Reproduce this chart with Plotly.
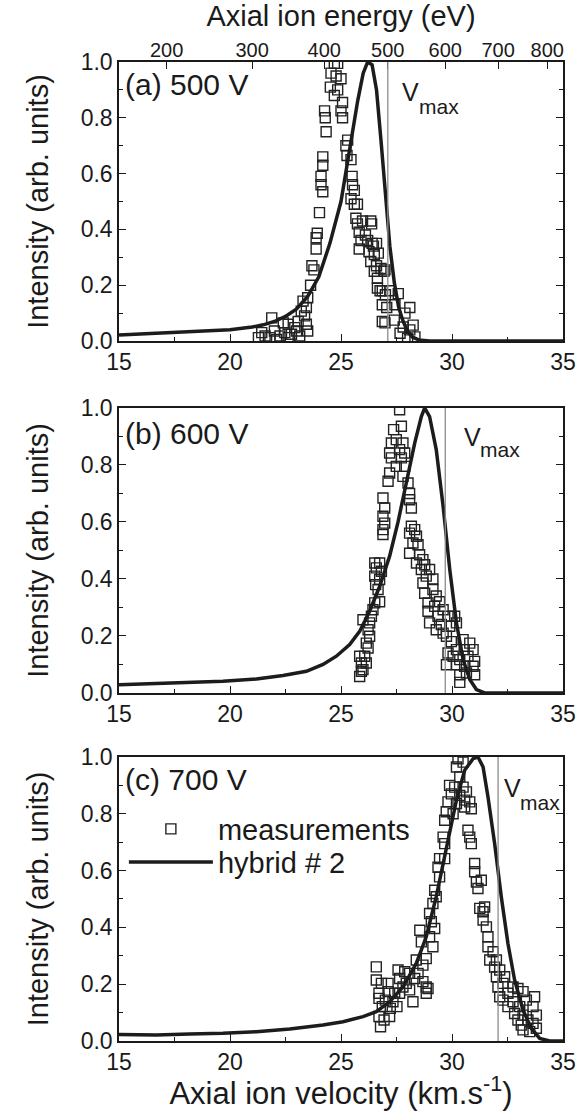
import numpy as np
import plotly.graph_objects as go

# ---------------- data ----------------
voltages = [500, 600, 700]
panel_labels = ["(a) 500 V", "(b) 600 V", "(c) 700 V"]
energy_ticks = [200, 300, 400, 500, 600, 700, 800]

# hybrid #2 model curves (velocity km/s, normalised intensity)
curve_a_v = [15, 16, 17, 18, 19, 20, 21, 21.5, 22, 22.5, 23, 23.5, 24, 24.5, 25, 25.25, 25.5, 25.75,
             26, 26.2, 26.4, 26.6, 26.8, 27.0, 27.2, 27.4, 27.6, 27.8, 28.0, 28.2, 28.5, 29, 30, 35]
curve_a_y = [0.022, 0.025, 0.028, 0.031, 0.035, 0.040, 0.050, 0.058, 0.070, 0.088, 0.115, 0.16, 0.23,
             0.35, 0.50, 0.62, 0.74, 0.86, 0.96, 1.0, 0.99, 0.90, 0.72, 0.52, 0.34, 0.21, 0.12, 0.07,
             0.035, 0.015, 0.004, 0.0, 0.0, 0.0]

curve_b_v = [15, 16.68, 18.18, 19.68, 21.19, 22.39, 23.44, 24.19, 24.79, 25.39, 25.84, 26.29, 26.74,
             27.19, 27.57, 27.94, 28.32, 28.62, 28.77, 28.99, 29.29, 29.6, 29.9, 30.2, 30.5, 30.8,
             31.1, 31.47, 35]
curve_b_y = [0.029, 0.033, 0.035, 0.041, 0.049, 0.061, 0.076, 0.10, 0.129, 0.17, 0.216, 0.287, 0.374,
             0.48, 0.60, 0.737, 0.877, 0.97, 1.0, 0.97, 0.854, 0.655, 0.433, 0.246, 0.117, 0.047,
             0.012, 0.0, 0.0]

curve_c_v = [15, 16.68, 18.18, 19.68, 21.19, 22.69, 24.19, 25.09, 25.99, 26.59, 27.19, 27.79, 28.39,
             28.84, 29.29, 29.74, 30.2, 30.57, 30.95, 31.17, 31.4, 31.62, 31.92, 32.22, 32.52, 32.82,
             33.2, 33.57, 33.95, 34.4, 35]
curve_c_y = [0.023, 0.021, 0.025, 0.027, 0.033, 0.042, 0.056, 0.068, 0.086, 0.103, 0.138, 0.19, 0.273,
             0.367, 0.508, 0.683, 0.848, 0.953, 0.994, 1.0, 0.965, 0.86, 0.695, 0.508, 0.343, 0.215,
             0.109, 0.045, 0.009, 0.0, 0.0]

# measurements (velocity km/s, normalised intensity)
meas_a_v = [24.7, 24.85, 24.55, 24.78, 25.0, 24.52, 24.85, 24.7, 25.07, 25.0, 25.07, 24.26, 24.29, 24.33,
            25.3, 25.22, 24.18, 24.18, 25.27, 25.45, 24.1, 24.1, 24.18, 24.03, 25.5, 25.52, 25.6, 25.45,
            25.6, 25.74, 25.67, 25.97, 26.34, 25.74, 25.82, 26.1, 25.9, 26.2, 26.4, 25.82, 26.26, 26.5,
            26.34, 26.8, 26.5, 26.64, 26.93, 26.64, 26.86, 27.0, 26.86, 26.86, 23.93, 23.88, 23.88, 23.69,
            23.78, 23.63, 23.5, 23.29, 23.44, 23.21, 23.36, 23.07, 23.44, 23.5, 22.92, 22.62, 22.4, 21.88,
            21.43, 21.58, 21.8, 22.0, 22.25, 22.47, 22.62, 22.77, 23.0, 23.14, 22.1, 21.28,
            26.38, 26.6, 26.46, 26.68, 26.6, 26.98, 26.76, 27.2, 27.58, 27.06, 27.43, 28.1, 26.98, 27.4,
            27.88, 27.8, 28.1, 28.25, 28.33, 28.0, 27.66]
meas_a_y = [0.995, 0.995, 0.96, 0.95, 0.94, 0.91, 0.90, 0.88, 0.855, 0.825, 0.80, 0.825, 0.80, 0.75,
            0.72, 0.70, 0.66, 0.63, 0.665, 0.65, 0.59, 0.56, 0.535, 0.46, 0.59, 0.56, 0.54, 0.51,
            0.49, 0.49, 0.44, 0.43, 0.43, 0.42, 0.39, 0.38, 0.36, 0.36, 0.35, 0.33, 0.32, 0.31,
            0.285, 0.26, 0.25, 0.225, 0.25, 0.19, 0.18, 0.166, 0.13, 0.07, 0.386, 0.37, 0.33, 0.27,
            0.255, 0.20, 0.155, 0.143, 0.12, 0.107, 0.09, 0.07, 0.06, 0.036, 0.048, 0.06, 0.065, 0.083,
            0.03, 0.018, 0.012, 0.036, 0.018, 0.03, 0.012, 0.024, 0.036, 0.018, 0.006, 0.012,
            0.42, 0.35, 0.34, 0.315, 0.27, 0.255, 0.18, 0.18, 0.17, 0.12, 0.13, 0.12, 0.065, 0.075,
            0.10, 0.05, 0.04, 0.057, 0.015, 0.01, 0.028]

meas_b_v = [27.64, 27.37, 27.72, 27.27, 27.49, 27.79, 27.19, 27.64, 27.87, 27.27, 27.72, 27.49, 27.87,
            27.19, 27.79, 27.12, 28.02, 26.89, 28.09, 28.09, 26.97, 28.17, 26.89, 26.97, 26.89, 26.89,
            28.17, 28.32, 28.09, 28.4, 28.24, 28.47, 28.09, 28.54, 28.69, 28.4, 28.77, 28.62, 28.99,
            28.84, 29.14, 28.69, 29.14, 28.77, 29.29, 29.44, 28.92, 29.22, 28.92, 29.6, 29.37, 29.82,
            30.12, 28.99, 29.52, 29.29, 29.9, 29.6, 29.75, 30.2, 29.97, 30.5, 30.8, 29.82, 30.2, 30.55,
            30.95, 30.05, 30.35, 30.72, 31.02, 29.75, 30.2, 30.57, 30.95, 30.35, 30.65, 31.02, 30.35,
            26.52, 26.74, 26.59, 26.82, 26.52, 26.74, 26.56, 26.67, 26.52, 26.74, 26.44, 26.37, 25.99,
            26.29, 26.22, 26.29, 26.14, 26.22, 25.84, 26.07, 25.92, 26.14, 25.92, 25.84, 25.99]
meas_b_y = [0.994, 0.924, 0.936, 0.877, 0.889, 0.877, 0.842, 0.854, 0.842, 0.825, 0.825, 0.795, 0.795,
            0.772, 0.76, 0.743, 0.737, 0.684, 0.70, 0.678, 0.649, 0.649, 0.62, 0.596, 0.573, 0.556,
            0.585, 0.573, 0.561, 0.55, 0.526, 0.52, 0.49, 0.485, 0.468, 0.456, 0.45, 0.433, 0.433,
            0.41, 0.40, 0.386, 0.363, 0.35, 0.34, 0.32, 0.316, 0.304, 0.287, 0.292, 0.269, 0.269,
            0.269, 0.246, 0.24, 0.222, 0.234, 0.21, 0.199, 0.246, 0.18, 0.187, 0.175, 0.14, 0.152, 0.152,
            0.152, 0.129, 0.117, 0.129, 0.111, 0.099, 0.099, 0.094, 0.094, 0.064, 0.07, 0.064, 0.037,
            0.456, 0.456, 0.439, 0.427, 0.41, 0.398, 0.38, 0.363, 0.316, 0.32, 0.292, 0.269, 0.257,
            0.246, 0.222, 0.199, 0.175, 0.158, 0.129, 0.129, 0.105, 0.105, 0.076, 0.058, 0.082]

meas_c_v = [30.27, 30.5, 30.2, 30.35, 29.89, 30.12, 30.5, 29.97, 30.35, 30.65, 29.82, 30.2, 30.57, 30.8,
            30.57, 30.87, 29.74, 30.05, 29.67, 30.72, 30.8, 29.6, 29.67, 30.87, 29.44, 29.67, 31.02,
            29.37, 29.44, 31.02, 31.1, 31.32, 31.17, 29.22, 29.29, 29.14, 31.25, 31.47, 31.4, 28.99,
            31.4, 31.55, 29.07, 29.22, 28.55, 31.62, 28.99, 28.62, 29.14, 31.62, 31.85, 31.7, 32.0,
            28.39, 28.84, 28.69, 31.92, 32.15, 32.0, 28.47, 32.37, 28.69, 28.84, 32.07, 32.3, 32.75,
            32.15, 32.52, 32.97, 33.2, 32.3, 32.75, 33.35, 33.72, 32.52, 33.05, 33.65, 32.82, 33.2,
            33.8, 32.97, 33.42, 33.12, 33.65, 33.2, 33.8, 33.5,
            26.59, 26.59, 26.82, 27.12, 27.57, 27.87, 28.09, 27.64, 27.94, 28.32, 27.79, 28.09, 26.71,
            27.12, 27.42, 27.64, 28.24, 26.71, 27.0, 27.34, 26.86, 27.22, 27.52, 26.71, 26.94, 27.19,
            26.78, 28.92, 28.84]
meas_c_y = [0.994, 0.982, 0.965, 0.93, 0.90, 0.894, 0.894, 0.87, 0.865, 0.877, 0.842, 0.836, 0.848, 0.842,
            0.824, 0.818, 0.807, 0.80, 0.777, 0.742, 0.718, 0.718, 0.695, 0.695, 0.642, 0.642, 0.625,
            0.612, 0.578, 0.596, 0.56, 0.566, 0.537, 0.531, 0.508, 0.484, 0.467, 0.472, 0.455, 0.449,
            0.426, 0.402, 0.42, 0.396, 0.39, 0.367, 0.367, 0.349, 0.332, 0.332, 0.314, 0.285, 0.285,
            0.285, 0.29, 0.267, 0.26, 0.25, 0.226, 0.238, 0.226, 0.209, 0.19, 0.19, 0.203, 0.19,
            0.156, 0.168, 0.185, 0.174, 0.144, 0.138, 0.144, 0.156, 0.121, 0.121, 0.121, 0.097, 0.091,
            0.091, 0.074, 0.074, 0.056, 0.062, 0.039, 0.045, 0.033,
            0.261, 0.215, 0.203, 0.203, 0.25, 0.244, 0.238, 0.22, 0.203, 0.22, 0.19, 0.18, 0.168,
            0.174, 0.168, 0.168, 0.138, 0.15, 0.144, 0.138, 0.121, 0.115, 0.121, 0.086, 0.074, 0.086,
            0.05, 0.185, 0.168]

curves_v = [curve_a_v, curve_b_v, curve_c_v]
curves_y = [curve_a_y, curve_b_y, curve_c_y]
meas_v = [meas_a_v, meas_b_v, meas_c_v]
meas_y = [meas_a_y, meas_b_y, meas_c_y]

# xenon ion: energy (eV) <-> axial velocity (km/s)
E_CHARGE = 1.602177e-19
XE_MASS = 131.293 * 1.660539e-27


def energy_to_velocity(e_ev):
    return np.sqrt(2.0 * np.asarray(e_ev, dtype=float) * E_CHARGE / XE_MASS) / 1000.0


vmax = [float(energy_to_velocity(u)) for u in voltages]

# ---------------- figure ----------------
FONT = "Liberation Sans, Arial, Helvetica, sans-serif"
INK = "#1a1a1a"
domains = [[0.715, 1.0], [0.3555, 0.6466], [0.0, 0.2901]]

fig = go.Figure()
for i in range(3):
    xa = "x" if i == 0 else f"x{i + 1}"
    ya = "y" if i == 0 else f"y{i + 1}"
    fig.add_trace(go.Scatter(
        x=meas_v[i], y=meas_y[i], mode="markers", name="measurements",
        marker=dict(symbol="square-open", size=10, color="#222222", line=dict(width=1.4)),
        xaxis=xa, yaxis=ya, showlegend=(i == 2), legend="legend"))
    fig.add_trace(go.Scatter(
        x=curves_v[i], y=curves_y[i], mode="lines", name="hybrid # 2",
        line=dict(color="#1c1c1c", width=3.5),
        xaxis=xa, yaxis=ya, showlegend=(i == 2), legend="legend2"))

# empty carrier trace so that the top energy axis of panel (a) is drawn
fig.add_trace(go.Scatter(x=[], y=[], xaxis="x4", yaxis="y", showlegend=False, hoverinfo="skip"))

x_common = dict(range=[15, 35], tick0=15, dtick=5, ticks="inside", ticklen=7, tickwidth=1.3,
                tickcolor=INK, minor=dict(dtick=2.5, ticks="inside", ticklen=4, tickwidth=1.2,
                                          tickcolor=INK),
                showline=True, linecolor=INK, linewidth=1.5, mirror=True, showgrid=False,
                zeroline=False, automargin=False, tickfont=dict(family=FONT, size=23, color=INK))
y_common = dict(range=[0, 1.0], tick0=0, dtick=0.2, tickformat=".1f", ticks="inside", ticklen=7,
                tickwidth=1.3, tickcolor=INK,
                minor=dict(dtick=0.1, ticks="inside", ticklen=4, tickwidth=1.2, tickcolor=INK),
                showline=True, linecolor=INK, linewidth=1.5, mirror="ticks", showgrid=False,
                zeroline=False, automargin=False, tickfont=dict(family=FONT, size=23, color=INK),
                title=dict(text="Intensity (arb. units)", font=dict(family=FONT, size=29, color=INK),
                           standoff=24))

layout = dict(
    width=587, height=1111, plot_bgcolor="white", paper_bgcolor="white",
    margin=dict(l=119, r=24, t=62, b=70),
    font=dict(family=FONT, color=INK),
)
for i in range(3):
    xk = "xaxis" if i == 0 else f"xaxis{i + 1}"
    yk = "yaxis" if i == 0 else f"yaxis{i + 1}"
    xa = "x" if i == 0 else f"x{i + 1}"
    ya = "y" if i == 0 else f"y{i + 1}"
    layout[xk] = dict(x_common, anchor=ya, domain=[0, 1])
    layout[yk] = dict(y_common, anchor=xa, domain=domains[i])

layout["xaxis3"]["title"] = dict(text="Axial ion velocity (km.s<sup>-1</sup>)",
                                 font=dict(family=FONT, size=31, color=INK), standoff=15)

# top energy axis for panel (a)
layout["xaxis4"] = dict(overlaying="x", side="top", anchor="y", range=[15, 35],
                        tickmode="array", tickvals=[float(v) for v in energy_to_velocity(energy_ticks)],
                        ticktext=[str(e) for e in energy_ticks], ticks="inside", ticklen=7,
                        tickwidth=1.3, tickcolor=INK, showgrid=False, showline=False, zeroline=False,
                        automargin=False, tickfont=dict(family=FONT, size=20, color=INK),
                        title=dict(text="Axial ion energy (eV)", font=dict(family=FONT, size=29, color=INK),
                                   standoff=4))

layout["legend"] = dict(x=0.011, y=0.2165, xanchor="left", yanchor="middle", bgcolor="rgba(0,0,0,0)",
                        font=dict(family=FONT, size=29, color=INK), itemwidth=84)
layout["legend2"] = dict(x=0.011, y=0.1828, xanchor="left", yanchor="middle", bgcolor="rgba(0,0,0,0)",
                         font=dict(family=FONT, size=29, color=INK), itemwidth=84)

fig.update_layout(**layout)

# vmax lines and labels
vpos_V = [(0.633, 0.892), (0.7725, 0.898), (0.8626, 0.891)]
vpos_max = [(0.671, 0.842), (0.8086, 0.856), (0.8986, 0.8415)]
label_y = [0.918, 0.912, 0.919]
for i in range(3):
    xa = "x" if i == 0 else f"x{i + 1}"
    ya = "y" if i == 0 else f"y{i + 1}"
    fig.add_shape(type="line", xref=xa, yref=f"{ya} domain", x0=vmax[i], x1=vmax[i], y0=0, y1=1,
                  line=dict(color="#8c8c8c", width=1.3))
    fig.add_annotation(xref=f"{xa} domain", yref=f"{ya} domain", x=0.01, y=label_y[i],
                       text=panel_labels[i], showarrow=False, xanchor="left", yanchor="middle",
                       font=dict(family=FONT, size=30, color=INK))
    fig.add_annotation(xref=f"{xa} domain", yref=f"{ya} domain", x=vpos_V[i][0], y=vpos_V[i][1],
                       text="V", showarrow=False, xanchor="left", yanchor="middle",
                       font=dict(family=FONT, size=25, color=INK))
    fig.add_annotation(xref=f"{xa} domain", yref=f"{ya} domain", x=vpos_max[i][0], y=vpos_max[i][1],
                       text="max", showarrow=False, xanchor="left", yanchor="middle",
                       font=dict(family=FONT, size=21, color=INK))

fig.write_html("out.html", config={"displayModeBar": False},
               post_script="document.body.style.margin='0';")
